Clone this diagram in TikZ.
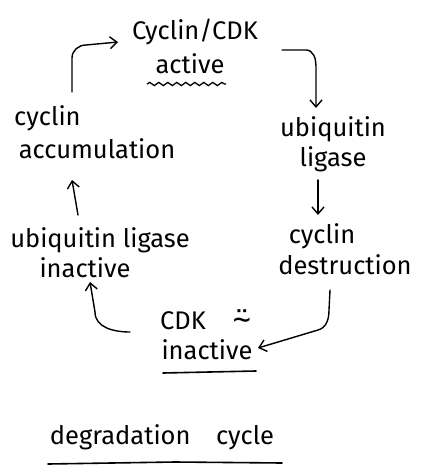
\documentclass[tikz,border=0pt]{standalone}
\usepackage{fontspec}
\setmainfont{Fira Sans}
\newfontfamily\symfont{DejaVu Sans Mono}
\usetikzlibrary{arrows.meta,decorations.pathmorphing}
\begin{document}
\begin{tikzpicture}[x=1pt,y=-1pt,
  lbl/.style={font=\fontsize{25.5}{27}\selectfont, inner sep=0pt, align=center},
  flow/.style={line width=1.4pt, -{Straight Barb[length=7pt,width=12pt,line width=1.4pt]}, line cap=round},
  rule/.style={line width=1.6pt, line cap=round}]
\useasboundingbox (0,0) rectangle (425,466);

% states of the cycle
\node[lbl] (cdk1)  at (195,32)  {Cyclin/CDK};
\node[lbl] (act)   at (190,64)  {active};
\node[lbl] (ubq1)  at (333,129) {ubiquitin};
\node[lbl] (lig1)  at (333,159) {ligase};
\node[lbl] (cyc1)  at (322,236) {cyclin};
\node[lbl] (des)   at (345,265) {destruction};
\node[lbl,anchor=west] (cdk2) at (160,321) {CDK};
\node[lbl,font=\symfont\fontsize{30}{30}\selectfont] (sad) at (242,320) {⍨};
\node[lbl] (inact) at (207,350) {inactive};
\node[lbl] (ubq2)  at (100,240) {ubiquitin ligase};
\node[lbl] (inac2) at (85,268)  {inactive};
\node[lbl,anchor=west] (cyc2) at (14,118) {cyclin};
\node[lbl] (acc)   at (97,149)  {accumulation};
\node[lbl] (title) at (162,437) {degradation\quad cycle};

% underlines
\draw[line width=1.3pt, decorate, decoration={snake, amplitude=1.6pt, segment length=9pt}]
  (147,84) -- (226,84);
\draw[rule] (163,373) -- (256,371);
\draw[rule] (48,464) -- (175,462) -- (282,463);

% connectors
\draw[flow] (72,92) -- (72,58) to[out=90,in=180] (86,45) -- (118,42);
\draw[flow] (282,50) -- (306,50) to[out=0,in=90] (316,66) -- (316,108);
\draw[flow] (318,180) -- (318,215);
\draw[flow] (330,290) -- (329,310) to[out=-90,in=15] (318,330) -- (258,348);
\draw[flow] (130,332) to[out=180,in=-90] (95,312) -- (90,282);
\draw[flow] (78,215) -- (72,180);
\end{tikzpicture}
\end{document}
